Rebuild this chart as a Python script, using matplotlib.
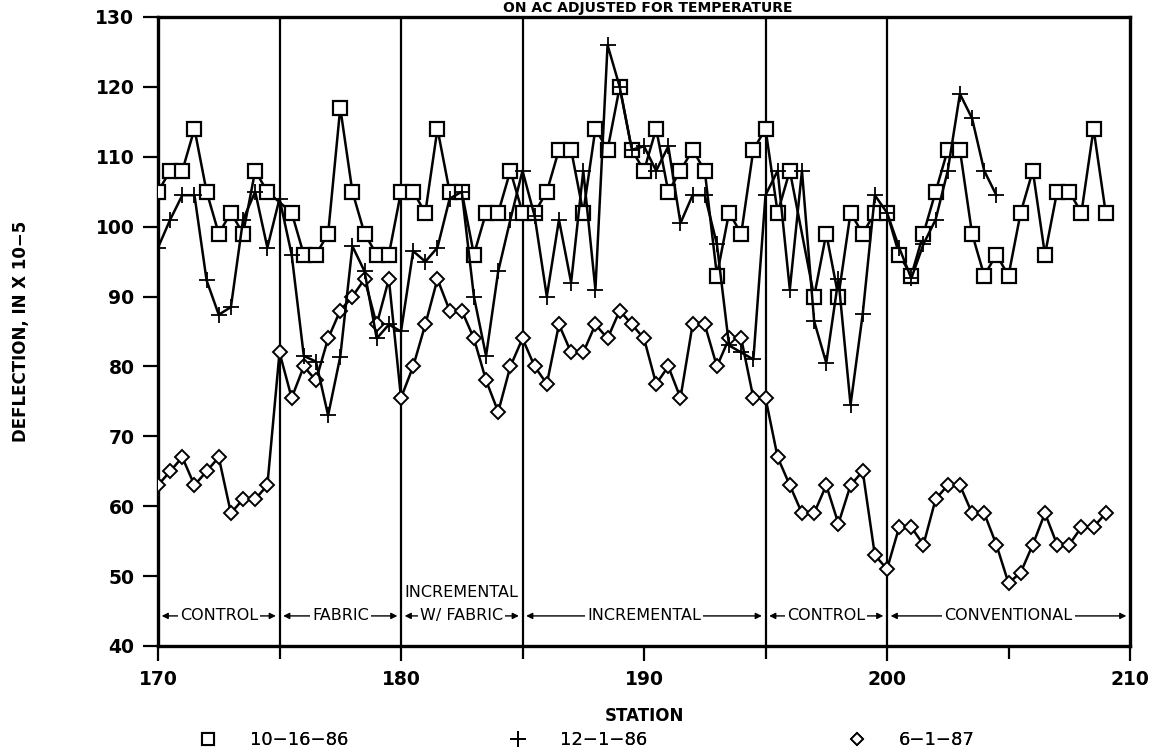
import numpy as np
import matplotlib.pyplot as plt
from matplotlib.lines import Line2D

# 10-16-86 survey (squares)
sq_station = [170.0, 170.5, 171.0, 171.5, 172.0, 172.5, 173.0, 173.5, 174.0, 174.5,
              175.5, 176.0, 176.5, 177.0, 177.5, 178.0, 178.5, 179.0, 179.5, 180.0,
              180.5, 181.0, 181.5, 182.0, 182.5, 183.0, 183.5, 184.0, 184.5, 185.0,
              185.5, 186.0, 186.5, 187.0, 187.5, 188.0, 188.5, 189.0, 189.5, 190.0,
              190.5, 191.0, 191.5, 192.0, 192.5, 193.0, 193.5, 194.0, 194.5, 195.0,
              195.5, 196.0, 197.0, 197.5, 198.0, 198.5, 199.0, 199.5, 200.0,
              200.5, 201.0, 201.5, 202.0, 202.5, 203.0, 203.5, 204.0, 204.5, 205.0,
              205.5, 206.0, 206.5, 207.0, 207.5, 208.0, 208.5, 209.0]
sq_defl = [105, 108, 108, 114, 105, 99, 102, 99, 108, 105,
           102, 96, 96, 99, 117, 105, 99, 96, 96, 105,
           105, 102, 114, 105, 105, 96, 102, 102, 108, 102,
           102, 105, 111, 111, 102, 114, 111, 120, 111, 108,
           114, 105, 108, 111, 108, 93, 102, 99, 111, 114,
           102, 108, 90, 99, 90, 102, 99, 102, 102,
           96, 93, 99, 105, 111, 111, 99, 93, 96, 93,
           102, 108, 96, 105, 105, 102, 114, 102]

# 12-1-86 survey (plus)
pl_station = [170.0, 170.5, 171.0, 171.5, 172.0, 172.5, 173.0, 173.5, 174.0, 174.5,
              175.0, 175.5, 176.0, 176.5, 177.0, 177.5, 178.0, 178.5, 179.0, 179.5,
              180.0, 180.5, 181.0, 181.5, 182.0, 182.5, 183.0, 183.5, 184.0, 184.5,
              185.0, 185.5, 186.0, 186.5, 187.0, 187.5, 188.0, 188.5, 189.0, 189.5,
              190.0, 190.5, 191.0, 191.5, 192.0, 192.5, 193.0, 193.5, 194.0, 194.5,
              195.0, 195.5, 196.0, 196.5, 197.0, 197.5, 198.0, 198.5, 199.0, 199.5,
              200.0, 200.5, 201.0, 201.5, 202.0, 202.5, 203.0, 203.5, 204.0, 204.5]
pl_defl = [97, 101, 104.5, 104.5, 92.3, 87.4, 88.5, 101, 105, 97,
           104, 96, 81.5, 80.7, 73, 81.4, 97.2, 93.6, 84, 86,
           85, 96.5, 95, 97, 104, 105, 90, 81.5, 93.6, 101,
           108, 101.5, 90, 101, 92, 108, 91, 126, 120, 111,
           111.5, 108, 111.5, 100.5, 104.5, 104.5, 97.5, 83, 82, 81,
           104.5, 108, 91, 108, 86.5, 80.5, 92.5, 74.5, 87.5, 104.5,
           102, 97, 92.6, 97.5, 101, 108, 119, 115.5, 108, 104.5]

# 6-1-87 survey (diamonds)
dm_station = [170.0, 170.5, 171.0, 171.5, 172.0, 172.5, 173.0, 173.5, 174.0, 174.5,
              175.0, 175.5, 176.0, 176.5, 177.0, 177.5, 178.0, 178.5, 179.0, 179.5,
              180.0, 180.5, 181.0, 181.5, 182.0, 182.5, 183.0, 183.5, 184.0, 184.5,
              185.0, 185.5, 186.0, 186.5, 187.0, 187.5, 188.0, 188.5, 189.0, 189.5,
              190.0, 190.5, 191.0, 191.5, 192.0, 192.5, 193.0, 193.5, 194.0, 194.5,
              195.0, 195.5, 196.0, 196.5, 197.0, 197.5, 198.0, 198.5, 199.0, 199.5,
              200.0, 200.5, 201.0, 201.5, 202.0, 202.5, 203.0, 203.5, 204.0, 204.5,
              205.0, 205.5, 206.0, 206.5, 207.0, 207.5, 208.0, 208.5, 209.0]
dm_defl = [63, 65, 67, 63, 65, 67, 59, 61, 61, 63,
           82, 75.5, 80, 78, 84, 88, 90, 92.5, 86, 92.5,
           75.5, 80, 86, 92.5, 88, 88, 84, 78, 73.5, 80,
           84, 80, 77.5, 86, 82, 82, 86, 84, 88, 86,
           84, 77.5, 80, 75.5, 86, 86, 80, 84, 84, 75.5,
           75.5, 67, 63, 59, 59, 63, 57.5, 63, 65, 53,
           51, 57, 57, 54.5, 61, 63, 63, 59, 59, 54.5,
           49, 50.5, 54.5, 59, 54.5, 54.5, 57, 57, 59]

boundaries = [175, 180, 185, 195, 200]
sections = [(170, 175, 'CONTROL'), (175, 180, 'FABRIC'), (180, 185, 'W/ FABRIC'),
            (185, 195, 'INCREMENTAL'), (195, 200, 'CONTROL'), (200, 210, 'CONVENTIONAL')]

legend_labels = ['10\u221216\u221286', '12\u22121\u221286', '6\u22121\u221287']

fig = plt.figure(figsize=(11.67, 7.52), dpi=100)
ax = fig.add_axes([0.1354, 0.141, 0.8329, 0.8364])

ax.plot(sq_station, sq_defl, color='black', lw=1.8, marker='s', ms=9.5, mfc='white',
        mec='black', mew=1.6, zorder=3)
ax.plot(pl_station, pl_defl, color='black', lw=1.8, marker='+', ms=12, mew=1.3, zorder=4)
ax.plot(dm_station, dm_defl, color='black', lw=1.8, marker='D', ms=7, mfc='white',
        mec='black', mew=1.4, zorder=3)

for b in boundaries:
    ax.axvline(b, color='black', lw=1.6, zorder=2)

# section labels with arrows
for start, end, name in sections:
    ax.annotate('', xy=(start + 0.15, 44.3), xytext=(end - 0.15, 44.3),
                arrowprops=dict(arrowstyle='<|-|>', color='black', lw=1.0,
                                mutation_scale=9, shrinkA=0, shrinkB=0))
    ax.text((start + end) / 2, 44.3, name, ha='center', va='center', fontsize=11.5,
            bbox=dict(fc='white', ec='none', pad=1.5), zorder=5)
ax.text(182.5, 47.7, 'INCREMENTAL', ha='center', va='center', fontsize=11.5)

ax.set_xlim(170, 210)
ax.set_ylim(40, 130)
ax.set_xticks([170, 180, 190, 200, 210])
ax.set_xticks([175, 185, 195, 205], minor=True)
ax.set_yticks(np.arange(40, 131, 10))
ax.tick_params(axis='both', which='major', direction='out', length=11, width=1.6,
               labelsize=13.5, pad=6)
ax.tick_params(axis='x', which='minor', direction='out', length=9, width=1.6)
for lab in ax.get_xticklabels() + ax.get_yticklabels():
    lab.set_fontweight('bold')
for s in ax.spines.values():
    s.set_linewidth(2.4)

ax.set_ylabel('DEFLECTION, IN X 10\u22125', fontsize=12, fontweight='bold')
ax.yaxis.set_label_coords(-0.132, 0.5)
ax.set_xlabel('STATION', fontsize=12, fontweight='bold')
ax.xaxis.set_label_coords(0.5, -0.097)

fig.text(0.555, 0.999, 'ON AC ADJUSTED FOR TEMPERATURE', ha='center', va='top',
         fontsize=10, fontweight='bold')

# legend: one entry per block, spaced like the original
handles = [Line2D([], [], ls='none', marker='s', ms=8, mfc='white', mec='black', mew=1.5),
           Line2D([], [], ls='none', marker='+', ms=11, mec='black', mew=1.3),
           Line2D([], [], ls='none', marker='D', ms=6, mfc='white', mec='black', mew=1.3)]
leg_x = [0.1705, 0.4362, 0.7266]
for h, lab, x0 in zip(handles, legend_labels, leg_x):
    leg = fig.legend([h], [lab], loc='center left', bbox_to_anchor=(x0, 0.016),
                     frameon=False, handlelength=1, handletextpad=1.8, borderpad=0,
                     borderaxespad=0, prop={'size': 13})
    fig.add_artist(leg)

fig.savefig('out.png', dpi=100)
